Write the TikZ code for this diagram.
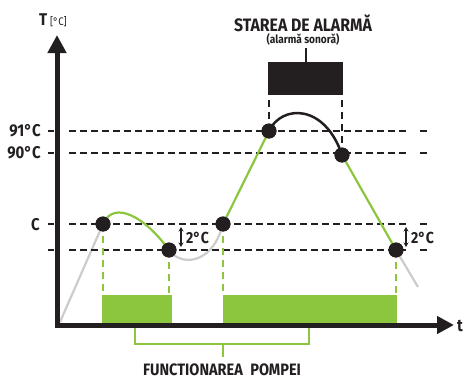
\documentclass[tikz,border=0pt]{standalone}
\usepackage{fontspec}
\setmainfont{Fira Sans}[FakeStretch=0.88]
\usetikzlibrary{arrows.meta}
\definecolor{blk}{HTML}{231F20}
\definecolor{grn}{HTML}{8CC63F}
\definecolor{gry}{HTML}{CCCCCC}
\begin{document}
\begin{tikzpicture}[x=1pt,y=-1pt,
  dot/.style={circle,fill=blk,inner sep=0pt,minimum size=15pt},
  hdash/.style={blk,line width=2.5pt,dash pattern=on 7pt off 4pt},
  vdash/.style={grn,line width=2.5pt,dash pattern=on 7pt off 5pt},
  kdash/.style={blk,line width=2.5pt,dash pattern=on 7pt off 5pt},
  tickmark/.style={blk,line width=2.5pt},
  gcurve/.style={grn,line width=2.2pt},
  graycurve/.style={gry,line width=2.2pt},
  arc/.style={blk,line width=2.5pt},
  axis/.style={blk,line width=5pt,line join=miter},
  brk/.style={grn,line width=2pt},
  dbl/.style={blk,line width=1.3pt,{Stealth[length=4.5pt,width=5pt]}-{Stealth[length=4.5pt,width=5pt]}},
  lbl/.style={text=blk,inner sep=0pt,font=\bfseries\fontsize{17}{17}\selectfont},
  small/.style={text=blk,inner sep=0pt,font=\bfseries\fontsize{16}{16}\selectfont}
]
\useasboundingbox (0,0) rectangle (467,380);
% coordinates
\coordinate (O) at (57,325);
\coordinate (ytop) at (57,35);
\coordinate (xend) at (454,325);
% pump bars
\fill[grn] (102,295) rectangle (172,325);
\fill[grn] (223,295) rectangle (397,325);
% dots (positions)
\node[dot] (p1) at (103,224) {};
\node[dot] (p2) at (169,250) {};
\node[dot] (p3) at (223,224) {};
\node[dot] (p4) at (269,131) {};
\node[dot] (p5) at (342,155) {};
\node[dot] (p6) at (396,250) {};
% gray curves
\coordinate (g0) at (60,322);
\coordinate (g7) at (418,287);
\draw[graycurve] (g0) -- (p1.center);
\draw[graycurve] (p2.center) .. controls (180,266) and (212,266) .. (p3.center);
\draw[graycurve] (p6.center) -- (g7);
% horizontal dashed levels
\foreach \y/\n in {131/a,153/b,224/c,250/d}{
  \coordinate (L\n1) at (69,\y);
  \coordinate (L\n2) at (407,\y);
  \coordinate (R\n1) at (420,\y);
  \coordinate (R\n2) at (427,\y);
  \coordinate (T\n1) at (48,\y);
  \coordinate (T\n2) at (54,\y);
  \draw[hdash] (L\n1) -- (L\n2);
  \draw[tickmark] (R\n1) -- (R\n2);
  \draw[tickmark] (T\n1) -- (T\n2);
}
% green dashed verticals
\draw[vdash] (p1.center) -- (p1 |- 0,295);
\draw[vdash] (p2.center) -- (p2 |- 0,295);
\draw[vdash] (p3.center) -- (p3 |- 0,295);
\draw[vdash] (p6.center) -- (p6 |- 0,295);
% alarm box
\node[fill=blk,inner sep=0pt,minimum width=75pt,minimum height=33pt] (box) at (305.5,78.5) {};
\draw[kdash] (p4.center) -- (p4 |- box.south);
\draw[kdash] (p5.center) -- (p5 |- box.south);
\coordinate (stem) at (306,48);
\draw[blk,line width=2pt] (box.north -| stem) -- (stem);
% curves
\draw[gcurve] (p1.center) .. controls (114,199) and (146,218) .. (p2.center);
\draw[gcurve] (p3.center) -- (p4.center);
\draw[arc] (p4.center) .. controls (282,104) and (325,104) .. (p5.center);
\draw[gcurve] (p5.center) -- (p6.center);
% redraw dots on top
\foreach \p in {p1,p2,p3,p4,p5,p6}{\fill[blk] (\p) circle (7.5pt);}
% bracket
\coordinate (k1) at (135,325);
\coordinate (k2) at (135,344);
\coordinate (k3) at (309,344);
\coordinate (k4) at (309,325);
\coordinate (k5) at (223,344);
\coordinate (k6) at (223,357);
\draw[brk] (k1) -- (k2) -- (k3) -- (k4);
\draw[brk] (k5) -- (k6);
% axes
\draw[axis,{Triangle[length=18pt,width=18pt]}-{Triangle[length=17pt,width=17pt]}] (ytop) -- (O) -- (xend);
% 2C arrows
\coordinate (a1) at (181,227); \coordinate (a2) at (181,247);
\coordinate (b1) at (406,227); \coordinate (b2) at (406,247);
\draw[dbl] (a1) -- (a2);
\draw[dbl] (b1) -- (b2);
\node[small,anchor=west] (d1) at (186,238) {2°C};
\node[small,anchor=west] (d2) at (411,238) {2°C};
% labels
\node[lbl,anchor=east] (n91) at (41,131) {91°C};
\node[lbl,anchor=east] (n90) at (41,153) {90°C};
\node[lbl,anchor=east] (nc) at (40,225) {C};
\node[lbl,anchor=base west] (nT) at (39,26) {T\,{\mdseries\fontsize{11}{11}\selectfont[°C]}};
\node[lbl,anchor=west] (nt) at (457,326) {t};
\node[lbl,font=\bfseries\fontsize{18}{18}\selectfont] (alarm) at (303,23) {STAREA DE ALARMĂ};
\node[lbl,font=\bfseries\fontsize{11.5}{11.5}\selectfont] (sonor) at (303,39) {(alarmă sonoră)};
\node[lbl,font=\bfseries\fontsize{16.5}{16.5}\selectfont] (pump) at (222,369.5) {FUNCTIONAREA\hspace{4pt} POMPEI};
\end{tikzpicture}
\end{document}
